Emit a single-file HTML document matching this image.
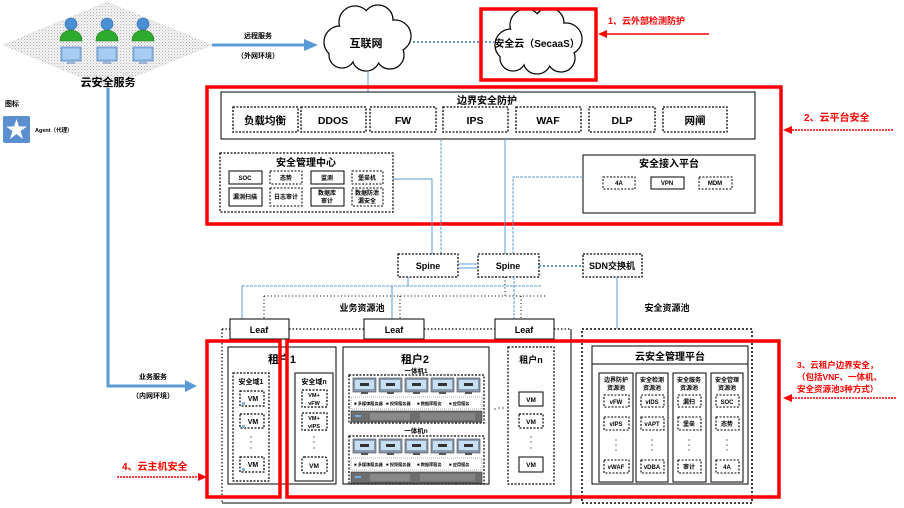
<!DOCTYPE html>
<html><head><meta charset="utf-8"><style>
html,body{margin:0;padding:0;background:#fff;}
svg{display:block;}
text{font-family:"Liberation Sans","Noto Sans CJK SC",sans-serif;font-weight:bold;fill:#000;}
.r{fill:#ff0000;}
</style></head><body>
<svg width="904" height="508" viewBox="0 0 904 508" xmlns="http://www.w3.org/2000/svg">
<defs>
<pattern id="dots" width="3" height="3" patternUnits="userSpaceOnUse"><rect width="3" height="3" fill="#f4f4f4"/><rect width="1" height="1" fill="#b0b0b0"/><rect x="1.5" y="1.5" width="1" height="1" fill="#c8c8c8"/></pattern>
<g id="mon">
<rect x="0" y="0" width="23" height="14" fill="#8a9bb0" stroke="#444" stroke-width="0.6"/>
<rect x="2" y="2" width="19" height="9" fill="#c6dff2"/>
<rect x="7" y="5" width="9" height="3" fill="#333"/>
<rect x="8" y="14" width="7" height="2" fill="#555"/>
</g>
<g id="person">
<circle cx="0" cy="-6" r="6" fill="#4a8fd4" stroke="#2d6aa8" stroke-width="0.6"/>
<path d="M-11,11 Q-11,1 0,0 Q11,1 11,11 Z" fill="#2eaa2e" stroke="#1d7a1d" stroke-width="0.6"/>
<rect x="-10" y="17" width="20" height="14" fill="#8fbbe8" stroke="#5d8cc4" stroke-width="0.8"/>
<rect x="-8" y="19" width="16" height="10" fill="#a9cdf2"/>
<rect x="-4" y="31" width="8" height="3" fill="#9db5d2"/>
</g>
</defs>

<!-- Diamond cloud security service -->
<polygon points="3,45 107,2 212,45 107,88" fill="url(#dots)" stroke="#ddd" stroke-width="0.5"/>
<use href="#person" x="71" y="30"/>
<use href="#person" x="107" y="30"/>
<use href="#person" x="143" y="30"/>
<text x="108" y="86" font-size="11" text-anchor="middle">云安全服务</text>

<!-- remote service arrow -->
<line x1="212" y1="45" x2="306" y2="45" stroke="#5b9bd5" stroke-width="3"/>
<polygon points="304,39 318,45 304,51" fill="#5b9bd5"/>
<text x="258" y="38" font-size="7" text-anchor="middle">远程服务</text>
<text x="258" y="58" font-size="7" text-anchor="middle">（外网环境）</text>

<!-- legend -->
<text x="5" y="106" font-size="7">图标</text>
<rect x="3" y="116" width="27" height="27" rx="2" fill="#5b8fd0"/>
<polygon points="16.5,119 19,126.5 27,126.5 20.5,131 23,139 16.5,134 10,139 12.5,131 6,126.5 14,126.5" fill="#fff"/>
<text x="35" y="132" font-size="5.5">Agent（代理）</text>

<!-- business service arrow -->
<polyline points="108,88 108,386 187,386" fill="none" stroke="#5b9bd5" stroke-width="3"/>
<polygon points="185,380 197,386 185,392" fill="#5b9bd5"/>
<text x="153" y="379" font-size="7" text-anchor="middle">业务服务</text>
<text x="153" y="398" font-size="7" text-anchor="middle">（内网环境）</text>

<!-- Internet cloud -->
<g stroke="#000" stroke-width="1.3" fill="#fff">
<circle cx="340" cy="42" r="16"/><circle cx="355" cy="22" r="16"/><circle cx="378" cy="20" r="15"/><circle cx="395" cy="36" r="16"/><circle cx="390" cy="55" r="14"/><circle cx="366" cy="57" r="14"/><circle cx="342" cy="55" r="13"/>
</g>
<g fill="#fff">
<circle cx="340" cy="42" r="15.3"/><circle cx="355" cy="22" r="15.3"/><circle cx="378" cy="20" r="14.3"/><circle cx="395" cy="36" r="15.3"/><circle cx="390" cy="55" r="13.3"/><circle cx="366" cy="57" r="13.3"/><circle cx="342" cy="55" r="12.3"/><rect x="345" y="28" width="40" height="30"/>
</g>
<text x="366" y="47" font-size="11" text-anchor="middle">互联网</text>

<line x1="413" y1="42" x2="494" y2="42" stroke="#5b9bd5" stroke-width="2" stroke-dasharray="2,2"/>
<line x1="368" y1="70" x2="368" y2="92" stroke="#5b9bd5" stroke-width="1"/>

<!-- SecaaS cloud -->
<g stroke="#000" stroke-width="1.3" fill="#fff">
<circle cx="511" cy="45" r="16"/><circle cx="526" cy="25" r="16"/><circle cx="549" cy="23" r="15"/><circle cx="566" cy="39" r="16"/><circle cx="561" cy="58" r="14"/><circle cx="537" cy="60" r="14"/><circle cx="513" cy="58" r="13"/>
</g>
<g fill="#fff">
<circle cx="511" cy="45" r="15.3"/><circle cx="526" cy="25" r="15.3"/><circle cx="549" cy="23" r="14.3"/><circle cx="566" cy="39" r="15.3"/><circle cx="561" cy="58" r="13.3"/><circle cx="537" cy="60" r="13.3"/><circle cx="513" cy="58" r="12.3"/><rect x="516" y="31" width="40" height="30"/>
</g>
<text x="537" y="47" font-size="10" text-anchor="middle">安全云（SecaaS）</text>
<rect x="481" y="9" width="115" height="71" fill="none" stroke="#ff0000" stroke-width="3.5"/>
<text x="608" y="24" font-size="9" class="r">1、云外部检测防护</text>
<line x1="709" y1="34" x2="604" y2="34" stroke="#ff0000" stroke-width="1.5"/>
<polygon points="598,34 607,30 607,38" fill="#ff0000"/>

<!-- Red box 2 platform -->
<rect x="207" y="87" width="574" height="137" fill="none" stroke="#ff0000" stroke-width="3.5"/>
<text x="804" y="121" font-size="10" class="r">2、云平台安全</text>
<line x1="893" y1="130" x2="788" y2="130" stroke="#ff0000" stroke-width="1.5" stroke-dasharray="2,1"/>
<polygon points="783,130 792,126 792,134" fill="#ff0000"/>

<!-- boundary security -->
<rect x="221" y="92" width="534" height="47" fill="none" stroke="#000" stroke-width="1"/>
<text x="487" y="104" font-size="10" text-anchor="middle">边界安全防护</text>
<g fill="none" stroke="#000" stroke-width="1.3" stroke-dasharray="2,1.5">
<rect x="233" y="107" width="65" height="25"/><rect x="301" y="107" width="65" height="25"/><rect x="370" y="107" width="66" height="25"/><rect x="443" y="107" width="65" height="25"/><rect x="516" y="107" width="65" height="25"/><rect x="589" y="107" width="66" height="25"/><rect x="663" y="107" width="64" height="25"/>
</g>
<g font-size="10.5" text-anchor="middle">
<text x="265" y="124">负载均衡</text><text x="333" y="124">DDOS</text><text x="403" y="124">FW</text><text x="475" y="124">IPS</text><text x="548" y="124">WAF</text><text x="622" y="124">DLP</text><text x="695" y="124">网闸</text>
</g>

<!-- security mgmt center -->
<rect x="220" y="153" width="173" height="59" fill="none" stroke="#000" stroke-width="1.2" stroke-dasharray="2,1.5"/>
<text x="306" y="166" font-size="10" text-anchor="middle">安全管理中心</text>
<g fill="none" stroke="#000" stroke-width="1">
<rect x="229" y="171" width="33" height="13"/>
<rect x="270" y="171" width="32" height="13" stroke-dasharray="2,1.5"/>
<rect x="311" y="171" width="33" height="13"/>
<rect x="352" y="171" width="31" height="13" stroke-dasharray="2,1.5"/>
<rect x="229" y="188" width="33" height="18"/>
<rect x="270" y="188" width="32" height="18" stroke-dasharray="2,1.5"/>
<rect x="311" y="188" width="33" height="18"/>
<rect x="352" y="188" width="31" height="18" stroke-dasharray="2,1.5"/>
</g>
<g font-size="6" text-anchor="middle">
<text x="245" y="180">SOC</text><text x="286" y="180">态势</text><text x="327" y="180">监测</text><text x="367" y="180">堡垒机</text>
<text x="245" y="199">漏洞扫描</text><text x="286" y="199">日志审计</text>
<text x="327" y="195">数据库</text><text x="327" y="203">审计</text>
<text x="367" y="195">数据防泄</text><text x="367" y="203">漏安全</text>
</g>

<!-- security access platform -->
<rect x="583" y="155" width="172" height="58" fill="none" stroke="#000" stroke-width="1"/>
<text x="669" y="167" font-size="10" text-anchor="middle">安全接入平台</text>
<g fill="none" stroke="#000" stroke-width="1" stroke-dasharray="2,1.5">
<rect x="603" y="177" width="32" height="12"/><rect x="651" y="177" width="33" height="12" stroke-dasharray="none"/><rect x="699" y="177" width="33" height="12"/>
</g>
<g font-size="6" text-anchor="middle"><text x="619" y="185">4A</text><text x="667" y="185">VPN</text><text x="715" y="185">MDM</text></g>

<!-- connectors to spines -->
<polyline points="393,179 432,179 432,254" fill="none" stroke="#5b9bd5" stroke-width="1"/>
<line x1="441" y1="139" x2="441" y2="254" stroke="#5b9bd5" stroke-width="1" stroke-dasharray="3,1"/>
<line x1="505" y1="139" x2="505" y2="254" stroke="#5b9bd5" stroke-width="1"/>
<polyline points="583,177 513,177 513,254" fill="none" stroke="#5b9bd5" stroke-width="1" stroke-dasharray="3,1"/>

<!-- spines -->
<g fill="#fff" stroke="#000" stroke-width="1.3" stroke-dasharray="2,1.5">
<rect x="398" y="254" width="60" height="23"/><rect x="478" y="254" width="61" height="23"/><rect x="583" y="254" width="59" height="23"/>
</g>
<g font-size="9" text-anchor="middle"><text x="428" y="269">Spine</text><text x="508" y="269">Spine</text><text x="612" y="269">SDN交换机</text></g>
<line x1="458" y1="264" x2="478" y2="264" stroke="#5b9bd5" stroke-width="1"/>
<line x1="458" y1="268" x2="478" y2="268" stroke="#5b9bd5" stroke-width="1"/>
<line x1="539" y1="266" x2="583" y2="266" stroke="#5b9bd5" stroke-width="2" stroke-dasharray="2,2"/>
<line x1="617" y1="277" x2="617" y2="329" stroke="#5b9bd5" stroke-width="1"/>

<!-- spine to leaf -->
<line x1="408" y1="277" x2="408" y2="286" stroke="#5b9bd5" stroke-width="1"/>
<line x1="242" y1="286" x2="541" y2="286" stroke="#5b9bd5" stroke-width="1" stroke-dasharray="3,1"/>
<line x1="242" y1="286" x2="242" y2="319" stroke="#5b9bd5" stroke-width="1"/>
<line x1="392" y1="286" x2="392" y2="319" stroke="#5b9bd5" stroke-width="1"/>
<line x1="514" y1="277" x2="514" y2="319" stroke="#5b9bd5" stroke-width="1" stroke-dasharray="3,1"/>
<g stroke="#000" stroke-width="1" stroke-dasharray="1,2.5" fill="none">
<line x1="264" y1="296" x2="546" y2="296"/>
<line x1="264" y1="296" x2="264" y2="319"/>
<line x1="400" y1="296" x2="400" y2="319"/>
<line x1="505" y1="277" x2="505" y2="296"/>
<line x1="521" y1="296" x2="521" y2="319"/>
</g>
<text x="362" y="311" font-size="9" text-anchor="middle">业务资源池</text>
<text x="667" y="311" font-size="9" text-anchor="middle">安全资源池</text>

<!-- leafs -->
<g fill="#fff" stroke="#000" stroke-width="1">
<rect x="230" y="319" width="59" height="20"/><rect x="364" y="319" width="60" height="20"/><rect x="495" y="319" width="59" height="20"/>
</g>
<g font-size="9" text-anchor="middle"><text x="259" y="333">Leaf</text><text x="394" y="333">Leaf</text><text x="524" y="333">Leaf</text></g>

<!-- business pool outline -->
<g stroke="#000" stroke-width="1.2" stroke-dasharray="1.5,2" fill="none">
<line x1="222" y1="329" x2="230" y2="329"/><line x1="289" y1="329" x2="364" y2="329"/><line x1="424" y1="329" x2="495" y2="329"/><line x1="554" y1="329" x2="571" y2="329"/>
<line x1="222" y1="329" x2="222" y2="503"/>
</g>
<line x1="571" y1="329" x2="571" y2="503" stroke="#000" stroke-width="1"/>
<line x1="222" y1="503" x2="571" y2="503" stroke="#000" stroke-width="1"/>

<!-- security pool outline -->
<rect x="582" y="329" width="170" height="174" fill="none" stroke="#000" stroke-width="1.5" stroke-dasharray="2,2"/>

<!-- Tenant 1 -->
<rect x="228" y="347" width="108" height="137" fill="none" stroke="#000" stroke-width="1"/>
<text x="282" y="363" font-size="11" text-anchor="middle">租户1</text>
<rect x="233" y="373" width="36" height="108" fill="none" stroke="#000" stroke-width="1.2" stroke-dasharray="2,1.5"/>
<text x="251" y="384" font-size="7" text-anchor="middle">安全域1</text>
<g fill="none" stroke="#000" stroke-width="1.2" stroke-dasharray="2,1.5">
<rect x="240" y="391" width="24" height="15"/><rect x="240" y="414" width="24" height="14"/><rect x="240" y="457" width="24" height="15"/>
</g>
<g font-size="7" text-anchor="middle"><text x="253" y="401">VM</text><text x="253" y="424">VM</text><text x="253" y="467">VM</text></g>
<g fill="#7fb0e0"><rect x="242" y="402" width="3" height="3"/><rect x="242" y="425" width="3" height="3"/><rect x="242" y="468" width="3" height="3"/></g>
<g fill="#888"><circle cx="251" cy="437" r="0.9"/><circle cx="251" cy="442" r="0.9"/><circle cx="251" cy="448" r="0.9"/></g>

<rect x="295" y="373" width="38" height="108" fill="none" stroke="#000" stroke-width="1"/>
<text x="314" y="384" font-size="7" text-anchor="middle">安全域n</text>
<g fill="none" stroke="#000" stroke-width="1.2" stroke-dasharray="2,1.5">
<rect x="302" y="390" width="25" height="17"/><rect x="302" y="413" width="25" height="17"/><rect x="302" y="457" width="25" height="16" rx="2"/>
</g>
<g font-size="5.5" text-anchor="middle">
<text x="314" y="397">VM+</text><text x="314" y="405">vFW</text>
<text x="314" y="420">VM+</text><text x="314" y="428">vIPS</text>
<text x="314" y="468" font-size="6.5">VM</text>
</g>
<g fill="#888"><circle cx="314" cy="437" r="0.9"/><circle cx="314" cy="442" r="0.9"/><circle cx="314" cy="448" r="0.9"/></g>

<!-- Tenant 2 -->
<rect x="343" y="347" width="146" height="137" fill="none" stroke="#000" stroke-width="1"/>
<text x="415" y="363" font-size="11" text-anchor="middle">租户2</text>
<text x="416" y="373" font-size="6.5" text-anchor="middle">一体机1</text>
<rect x="349" y="375" width="135" height="48" fill="none" stroke="#000" stroke-width="1.2" stroke-dasharray="2,1.5"/>
<use href="#mon" x="353" y="378"/><use href="#mon" x="379" y="378"/><use href="#mon" x="405" y="378"/><use href="#mon" x="431" y="378"/><use href="#mon" x="457" y="378"/>
<rect x="351" y="397" width="131" height="12" fill="#fff" stroke="#666" stroke-width="0.6" stroke-dasharray="1,1"/>
<g font-size="4.2"><text x="354" y="405">■ 多媒体服务器</text><text x="386" y="405">■ 视频服务器</text><text x="417" y="405">■ 数据库服务</text><text x="449" y="405">■ 应用服务</text></g>
<rect x="351" y="411" width="131" height="11" fill="#6e6e6e" stroke="#333" stroke-width="0.6"/>
<rect x="370" y="413" width="40" height="7" fill="#8a8a8a"/><rect x="420" y="413" width="55" height="7" fill="#848484"/>
<rect x="355" y="415" width="6" height="2" fill="#6fb0f0"/>

<text x="416" y="433" font-size="6.5" text-anchor="middle">一体机n</text>
<rect x="349" y="436" width="135" height="48" fill="none" stroke="#000" stroke-width="1.2" stroke-dasharray="2,1.5"/>
<use href="#mon" x="353" y="439"/><use href="#mon" x="379" y="439"/><use href="#mon" x="405" y="439"/><use href="#mon" x="431" y="439"/><use href="#mon" x="457" y="439"/>
<rect x="351" y="458" width="131" height="12" fill="#fff" stroke="#666" stroke-width="0.6" stroke-dasharray="1,1"/>
<g font-size="4.2"><text x="354" y="466">■ 多媒体服务器</text><text x="386" y="466">■ 视频服务器</text><text x="417" y="466">■ 数据库服务</text><text x="449" y="466">■ 应用服务</text></g>
<rect x="351" y="472" width="131" height="11" fill="#6e6e6e" stroke="#333" stroke-width="0.6"/>
<rect x="370" y="474" width="40" height="7" fill="#8a8a8a"/><rect x="420" y="474" width="55" height="7" fill="#848484"/>
<rect x="355" y="476" width="6" height="2" fill="#6fb0f0"/>

<g fill="#777"><circle cx="495" cy="409" r="0.9"/><circle cx="499" cy="408" r="0.9"/><circle cx="503" cy="408" r="0.9"/></g>

<!-- Tenant n -->
<rect x="508" y="347" width="46" height="137" fill="none" stroke="#000" stroke-width="1.2" stroke-dasharray="2,1.5"/>
<text x="531" y="363" font-size="9" text-anchor="middle">租户n</text>
<rect x="519" y="392" width="24" height="14" fill="none" stroke="#000" stroke-width="1"/>
<rect x="519" y="414" width="24" height="14" fill="none" stroke="#000" stroke-width="1.2" stroke-dasharray="2,1.5"/>
<rect x="519" y="457" width="24" height="15" fill="none" stroke="#000" stroke-width="1"/>
<g font-size="6.5" text-anchor="middle"><text x="531" y="402">VM</text><text x="531" y="424">VM</text><text x="531" y="467">VM</text></g>
<g fill="#888"><circle cx="531" cy="437" r="0.9"/><circle cx="531" cy="442" r="0.9"/><circle cx="531" cy="448" r="0.9"/></g>

<!-- Cloud security mgmt platform -->
<rect x="592" y="346" width="156" height="138" fill="none" stroke="#000" stroke-width="1"/>
<line x1="592" y1="364" x2="748" y2="364" stroke="#000" stroke-width="1"/>
<text x="670" y="360" font-size="10" text-anchor="middle">云安全管理平台</text>
<g fill="none" stroke="#000" stroke-width="1">
<rect x="599" y="373" width="34" height="109"/><rect x="636" y="373" width="32" height="109"/><rect x="673" y="373" width="33" height="109"/><rect x="711" y="373" width="32" height="109"/>
</g>
<g font-size="6" text-anchor="middle">
<text x="616" y="382">边界防护</text><text x="616" y="390">资源池</text>
<text x="652" y="382">安全检测</text><text x="652" y="390">资源池</text>
<text x="689" y="382">安全服务</text><text x="689" y="390">资源池</text>
<text x="727" y="382">安全管理</text><text x="727" y="390">资源池</text>
</g>
<g fill="none" stroke="#000" stroke-width="1.1" stroke-dasharray="2,1.5">
<rect x="604" y="395" width="25" height="12"/><rect x="604" y="417" width="25" height="13"/><rect x="604" y="460" width="25" height="13"/>
<rect x="641" y="395" width="23" height="12"/><rect x="641" y="417" width="23" height="13"/><rect x="641" y="460" width="23" height="13"/>
<rect x="678" y="395" width="23" height="12"/><rect x="678" y="417" width="23" height="13"/><rect x="678" y="460" width="23" height="13"/>
<rect x="716" y="395" width="23" height="12"/><rect x="716" y="417" width="23" height="13"/><rect x="716" y="460" width="23" height="13"/>
</g>
<g font-size="6" text-anchor="middle">
<text x="616" y="404">vFW</text><text x="616" y="426">vIPS</text><text x="616" y="469">vWAF</text>
<text x="652" y="404">vIDS</text><text x="652" y="426">vAPT</text><text x="652" y="469">vDBA</text>
<text x="689" y="404">漏扫</text><text x="689" y="426">堡垒</text><text x="689" y="469">审计</text>
<text x="727" y="404">SOC</text><text x="727" y="426">态势</text><text x="727" y="469">4A</text>
</g>
<g fill="#888">
<circle cx="616" cy="440" r="0.9"/><circle cx="616" cy="445" r="0.9"/><circle cx="616" cy="450" r="0.9"/>
<circle cx="652" cy="440" r="0.9"/><circle cx="652" cy="445" r="0.9"/><circle cx="652" cy="450" r="0.9"/>
<circle cx="689" cy="440" r="0.9"/><circle cx="689" cy="445" r="0.9"/><circle cx="689" cy="450" r="0.9"/>
<circle cx="727" cy="440" r="0.9"/><circle cx="727" cy="445" r="0.9"/><circle cx="727" cy="450" r="0.9"/>
</g>

<!-- Red boxes 3 and 4 -->
<rect x="207" y="341" width="73" height="156" fill="none" stroke="#ff0000" stroke-width="3.5"/>
<rect x="287" y="341" width="492" height="156" fill="none" stroke="#ff0000" stroke-width="3.5"/>

<text x="797" y="368" font-size="8.5" class="r">3、云租户边界安全，</text>
<text x="797" y="380" font-size="8.5" class="r">（包括VNF、一体机、</text>
<text x="797" y="392" font-size="8.5" class="r">安全资源池3种方式）</text>
<line x1="896" y1="398" x2="788" y2="398" stroke="#ff0000" stroke-width="1.5" stroke-dasharray="2,1"/>
<polygon points="783,398 792,394 792,402" fill="#ff0000"/>

<text x="122" y="470" font-size="10" class="r">4、云主机安全</text>
<line x1="117" y1="477" x2="200" y2="477" stroke="#ff0000" stroke-width="1.5" stroke-dasharray="2,1"/>
<polygon points="207,477 198,473 198,481" fill="#ff0000"/>
</svg>
</body></html>
